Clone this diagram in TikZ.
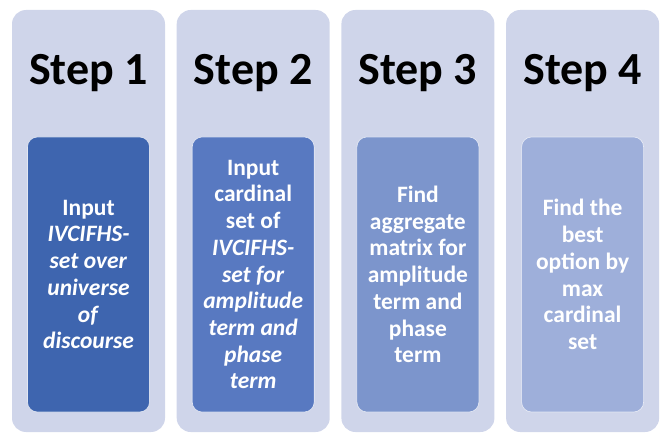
\documentclass[tikz,border=0pt]{standalone}
\usepackage{fontspec}
\setmainfont{Carlito}
\usepackage{tikz}

\definecolor{colbg}{HTML}{CFD5EA}
\definecolor{boxa}{HTML}{3E65AF}
\definecolor{boxb}{HTML}{5879C1}
\definecolor{boxc}{HTML}{7C95CC}
\definecolor{boxd}{HTML}{9EAFDA}

\begin{document}
\begin{tikzpicture}[x=1pt, y=1pt,
  column/.style={fill=colbg, rounded corners=14pt, minimum width=153pt, minimum height=422pt, inner sep=0pt},
  heading/.style={anchor=base, font=\fontsize{46}{50}\selectfont\bfseries},
  stepbox/.style={draw=white, draw opacity=0.7, line width=0.6pt, rounded corners=10pt, minimum width=122pt, minimum height=275pt, inner sep=0pt, text=white, align=center, font=\fontsize{23.5}{26.7}\selectfont\bfseries}]

  \useasboundingbox (0,0) rectangle (662,432);

  % columns
  \node[column] (col1) at (88.5,211) {};
  \node[column] (col2) at (253.2,211) {};
  \node[column] (col3) at (417.9,211) {};
  \node[column] (col4) at (582.6,211) {};

  % headings
  \node[heading] (head1) at (88.5,347) {Step 1};
  \node[heading] (head2) at (253.2,347) {Step 2};
  \node[heading] (head3) at (417.9,347) {Step 3};
  \node[heading] (head4) at (582.6,347) {Step 4};

  % inner boxes
  \node[stepbox, fill=boxa] (box1) at (88.5,157.5) {Input\\ \textit{IVCIFHS-}\\ \textit{set over}\\ \textit{universe}\\ \textit{of}\\ \textit{discourse}};
  \node[stepbox, fill=boxb] (box2) at (253.2,157.5) {Input\\ cardinal\\ set of\\ \textit{IVCIFHS-}\\ \textit{set for}\\ \textit{amplitude}\\ \textit{term and}\\ \textit{phase}\\ \textit{term}};
  \node[stepbox, fill=boxc] (box3) at (417.9,157.5) {Find\\ aggregate\\ matrix for\\ amplitude\\ term and\\ phase\\ term};
  \node[stepbox, fill=boxd] (box4) at (582.6,157.5) {Find the\\ best\\ option by\\ max\\ cardinal\\ set};

\end{tikzpicture}
\end{document}
